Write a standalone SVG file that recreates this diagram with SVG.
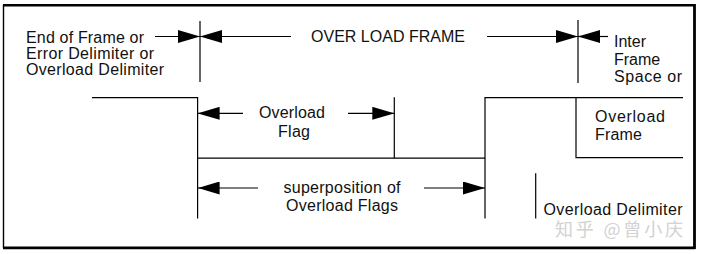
<svg xmlns="http://www.w3.org/2000/svg" width="701" height="254" viewBox="0 0 701 254">
  <style>
    .ln { stroke: #000; stroke-width: 1.2; fill: none; }
    .lbl { font-family: "Liberation Sans", Arial, sans-serif; font-size: 16px; fill: #111; }
    .mark { font-family: "Noto Sans CJK SC", sans-serif; font-size: 18px; fill: #d2d2d2; }
  </style>
  <defs>
    <marker id="head" markerUnits="userSpaceOnUse" markerWidth="22" markerHeight="13" refX="22" refY="6.5" orient="auto">
      <path d="M0,0 L22,6.5 L0,13 Z" fill="#000"/>
    </marker>
  </defs>

  <rect width="701" height="254" fill="#fff"/>

  <!-- outer frame -->
  <g id="frame" stroke="#000" fill="none">
    <line x1="3.5" y1="5" x2="3.5" y2="248" stroke-width="1.4"/>
    <line x1="3" y1="5.3" x2="695" y2="5.3" stroke-width="2.6"/>
    <line x1="3" y1="247.8" x2="695" y2="247.8" stroke-width="2.8"/>
    <line x1="694.5" y1="4" x2="694.5" y2="249" stroke-width="2.8"/>
  </g>

  <!-- frame boundary markers -->
  <g id="boundary-start">
    <line class="ln" x1="200" y1="21" x2="200" y2="82"/>
  </g>
  <g id="boundary-end">
    <line class="ln" x1="578" y1="20" x2="578" y2="83"/>
  </g>

  <!-- bus level traces -->
  <g id="trace-upper">
    <polyline class="ln" points="92,97.7 197.6,97.7 197.6,218.5"/>
    <polyline class="ln" points="197.6,158.2 485,158.2"/>
    <line class="ln" x1="394.3" y1="97.3" x2="394.3" y2="158.2"/>
  </g>
  <g id="trace-lower">
    <polyline class="ln" points="485,218.5 485,97.7 683,97.7"/>
    <polyline class="ln" points="576,97.7 576,157.7 683,157.7"/>
    <line class="ln" x1="535.7" y1="173.3" x2="535.7" y2="218.5"/>
  </g>

  <!-- labels -->
  <g id="label-end-of-frame">
    <text class="lbl" x="26" y="42.5" textLength="118" lengthAdjust="spacing">End of Frame or</text>
    <text class="lbl" x="26" y="58.5" textLength="128" lengthAdjust="spacing">Error Delimiter or</text>
    <text class="lbl" x="26" y="75" textLength="138" lengthAdjust="spacing">Overload Delimiter</text>
  </g>
  <g id="label-overload-frame">
    <text class="lbl" x="311" y="41.7" textLength="154" lengthAdjust="spacing">OVER LOAD FRAME</text>
  </g>
  <g id="label-inter-frame">
    <text class="lbl" x="614" y="47">Inter</text>
    <text class="lbl" x="614" y="64.5">Frame</text>
    <text class="lbl" x="614" y="82" textLength="68" lengthAdjust="spacing">Space or</text>
  </g>
  <g id="label-overload-flag">
    <text class="lbl" x="259" y="118.3" textLength="66" lengthAdjust="spacing">Overload</text>
    <text class="lbl" x="278" y="136.5" textLength="32" lengthAdjust="spacing">Flag</text>
  </g>
  <g id="label-next-frame">
    <text class="lbl" x="595" y="121.5" textLength="70" lengthAdjust="spacing">Overload</text>
    <text class="lbl" x="595" y="140" textLength="47" lengthAdjust="spacing">Frame</text>
  </g>
  <g id="label-superposition">
    <text class="lbl" x="283.5" y="193.3" textLength="117" lengthAdjust="spacing">superposition of</text>
    <text class="lbl" x="286" y="210.7" textLength="112" lengthAdjust="spacing">Overload Flags</text>
  </g>
  <g id="label-overload-delimiter">
    <text class="lbl" x="543.5" y="214.5" textLength="139" lengthAdjust="spacing">Overload Delimiter</text>
  </g>
  <g id="watermark">
    <text class="mark" x="555" y="235.5" textLength="128" lengthAdjust="spacing">知乎 @曾小庆</text>
  </g>

  <!-- dimension arrows -->
  <g id="connectors" class="ln" marker-end="url(#head)">
    <line x1="155" y1="36.5" x2="200" y2="36.5"/>
    <line x1="291" y1="36.5" x2="200" y2="36.5"/>
    <line x1="487" y1="36.5" x2="578" y2="36.5"/>
    <line x1="608" y1="36.5" x2="578" y2="36.5"/>
    <line x1="243" y1="113.3" x2="197.6" y2="113.3"/>
    <line x1="348" y1="113.3" x2="394.3" y2="113.3"/>
    <line x1="258" y1="188" x2="197.6" y2="188"/>
    <line x1="424" y1="188" x2="485" y2="188"/>
  </g>
</svg>
